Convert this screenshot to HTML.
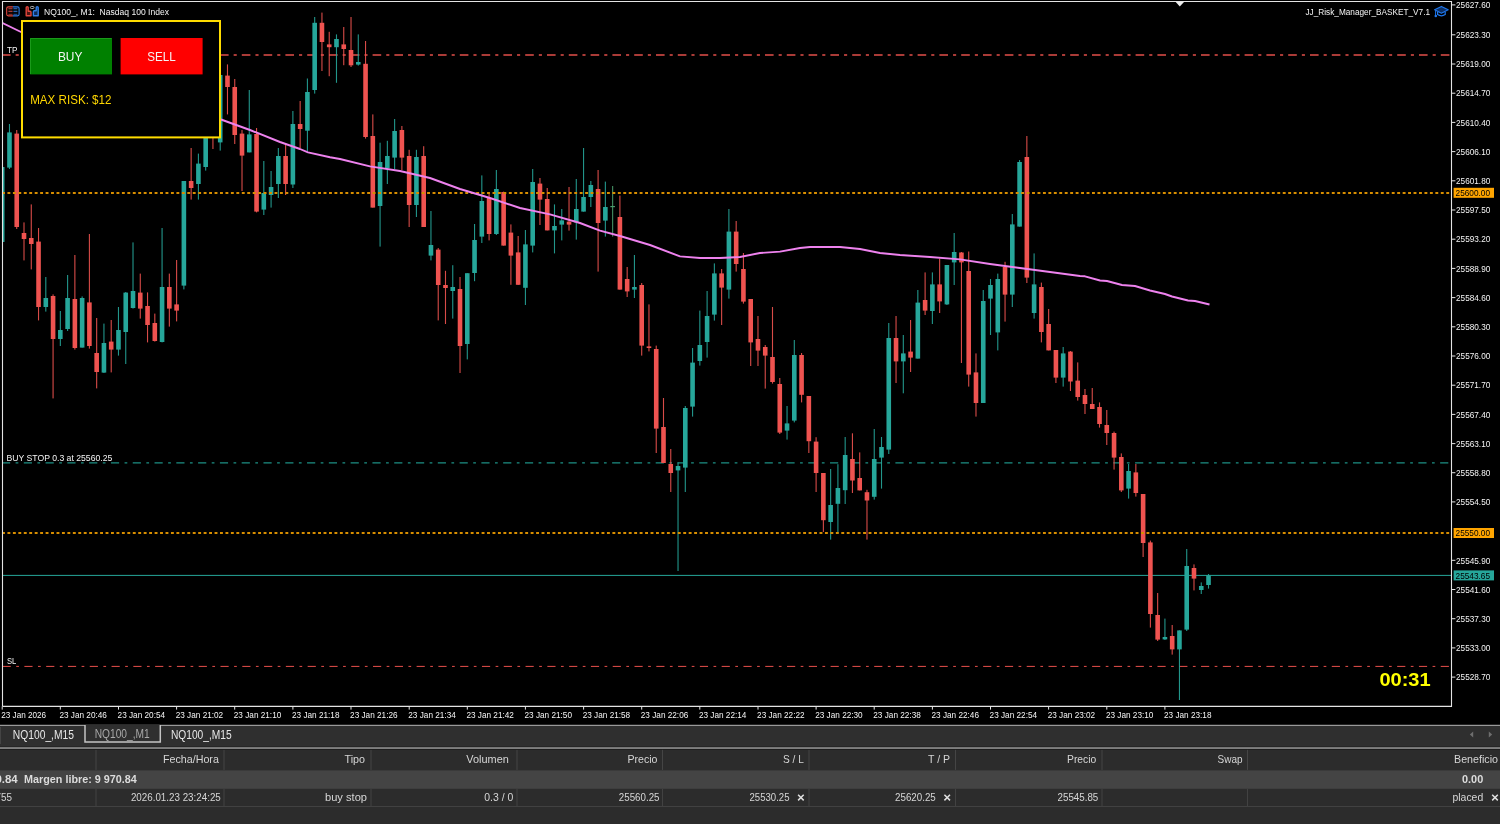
<!DOCTYPE html>
<html lang="es"><head><meta charset="utf-8"><title>NQ100_, M1: Nasdaq 100 Index</title>
<style>
html,body{margin:0;padding:0;background:#2c2c2c;width:1500px;height:824px;overflow:hidden}
svg{display:block;position:absolute;left:0;top:0}
text{font-family:"Liberation Sans",sans-serif;white-space:pre}
.ax{font-size:9.7px;fill:#f4f4f4}
.ui{font-size:11.2px;fill:#d6d6d6}
.tab{font-size:12px}
</style></head><body>
<svg width="1500" height="824" viewBox="0 0 1500 824">
<rect x="0" y="0" width="1500" height="725" fill="#000"/>
<clipPath id="cc"><rect x="3" y="2" width="1448" height="704"/></clipPath>
<g clip-path="url(#cc)">
<line x1="2" y1="54.9" x2="1451" y2="54.9" stroke="#aa3b37" stroke-width="2" stroke-dasharray="8.6 5.05 3.1 5.05"/>
<line x1="2" y1="462.9" x2="1451" y2="462.9" stroke="#1d8f84" stroke-width="1.4" stroke-dasharray="8.17 5.45 2.72 5.45"/>
<line x1="2" y1="575.4" x2="1451" y2="575.4" stroke="#26a69a" stroke-width="1"/>
<line x1="2.6" y1="666.4" x2="1451" y2="666.4" stroke="#e8504b" stroke-width="1" stroke-dasharray="8.17 5.45 2.72 5.45"/>
<g id="candles">
<rect x="1.65" y="165.0" width="1.1" height="79.0" fill="#26a69a" opacity="0.9"/>
<rect x="-0.10" y="167.0" width="4.6" height="75.0" fill="#26a69a"/>
<rect x="8.92" y="124.0" width="1.1" height="45.0" fill="#26a69a" opacity="0.9"/>
<rect x="7.17" y="132.4" width="4.6" height="35.2" fill="#26a69a"/>
<rect x="16.18" y="130.0" width="1.1" height="99.0" fill="#ef5350" opacity="0.9"/>
<rect x="14.43" y="133.6" width="4.6" height="93.4" fill="#ef5350"/>
<rect x="23.45" y="222.4" width="1.1" height="38.0" fill="#ef5350" opacity="0.9"/>
<rect x="21.70" y="233.0" width="4.6" height="6.0" fill="#ef5350"/>
<rect x="30.72" y="204.4" width="1.1" height="65.0" fill="#ef5350" opacity="0.9"/>
<rect x="28.97" y="238.0" width="4.6" height="6.0" fill="#ef5350"/>
<rect x="37.99" y="228.0" width="1.1" height="92.4" fill="#ef5350" opacity="0.9"/>
<rect x="36.24" y="241.6" width="4.6" height="65.4" fill="#ef5350"/>
<rect x="45.25" y="277.0" width="1.1" height="34.6" fill="#26a69a" opacity="0.9"/>
<rect x="43.50" y="298.0" width="4.6" height="9.0" fill="#26a69a"/>
<rect x="52.52" y="294.4" width="1.1" height="104.0" fill="#ef5350" opacity="0.9"/>
<rect x="50.77" y="296.0" width="4.6" height="43.0" fill="#ef5350"/>
<rect x="59.79" y="311.0" width="1.1" height="35.0" fill="#26a69a" opacity="0.9"/>
<rect x="58.04" y="330.0" width="4.6" height="9.0" fill="#26a69a"/>
<rect x="67.05" y="275.0" width="1.1" height="56.0" fill="#26a69a" opacity="0.9"/>
<rect x="65.30" y="298.0" width="4.6" height="31.0" fill="#26a69a"/>
<rect x="74.32" y="255.0" width="1.1" height="94.6" fill="#ef5350" opacity="0.9"/>
<rect x="72.57" y="299.0" width="4.6" height="49.0" fill="#ef5350"/>
<rect x="81.59" y="296.4" width="1.1" height="51.2" fill="#26a69a" opacity="0.9"/>
<rect x="79.84" y="298.0" width="4.6" height="49.6" fill="#26a69a"/>
<rect x="88.85" y="234.0" width="1.1" height="114.6" fill="#ef5350" opacity="0.9"/>
<rect x="87.10" y="302.4" width="4.6" height="43.6" fill="#ef5350"/>
<rect x="96.12" y="318.0" width="1.1" height="70.4" fill="#ef5350" opacity="0.9"/>
<rect x="94.37" y="353.0" width="4.6" height="19.0" fill="#ef5350"/>
<rect x="103.39" y="323.6" width="1.1" height="49.4" fill="#26a69a" opacity="0.9"/>
<rect x="101.64" y="343.0" width="4.6" height="29.6" fill="#26a69a"/>
<rect x="110.66" y="320.0" width="1.1" height="52.4" fill="#ef5350" opacity="0.9"/>
<rect x="108.91" y="341.6" width="4.6" height="8.0" fill="#ef5350"/>
<rect x="117.92" y="307.0" width="1.1" height="48.6" fill="#26a69a" opacity="0.9"/>
<rect x="116.17" y="330.0" width="4.6" height="19.6" fill="#26a69a"/>
<rect x="125.19" y="292.0" width="1.1" height="72.0" fill="#26a69a" opacity="0.9"/>
<rect x="123.44" y="292.6" width="4.6" height="39.4" fill="#26a69a"/>
<rect x="132.46" y="242.4" width="1.1" height="66.2" fill="#26a69a" opacity="0.9"/>
<rect x="130.71" y="291.0" width="4.6" height="17.0" fill="#26a69a"/>
<rect x="139.72" y="273.6" width="1.1" height="45.0" fill="#ef5350" opacity="0.9"/>
<rect x="137.97" y="292.6" width="4.6" height="16.0" fill="#ef5350"/>
<rect x="146.99" y="292.4" width="1.1" height="50.0" fill="#ef5350" opacity="0.9"/>
<rect x="145.24" y="306.0" width="4.6" height="19.0" fill="#ef5350"/>
<rect x="154.26" y="313.6" width="1.1" height="28.0" fill="#ef5350" opacity="0.9"/>
<rect x="152.51" y="323.0" width="4.6" height="18.0" fill="#ef5350"/>
<rect x="161.52" y="228.0" width="1.1" height="114.4" fill="#26a69a" opacity="0.9"/>
<rect x="159.77" y="287.0" width="4.6" height="55.0" fill="#26a69a"/>
<rect x="168.79" y="273.6" width="1.1" height="53.0" fill="#ef5350" opacity="0.9"/>
<rect x="167.04" y="287.0" width="4.6" height="21.6" fill="#ef5350"/>
<rect x="176.06" y="260.0" width="1.1" height="61.4" fill="#ef5350" opacity="0.9"/>
<rect x="174.31" y="304.4" width="4.6" height="6.2" fill="#ef5350"/>
<rect x="183.32" y="181.0" width="1.1" height="108.4" fill="#26a69a" opacity="0.9"/>
<rect x="181.57" y="181.0" width="4.6" height="104.6" fill="#26a69a"/>
<rect x="190.59" y="148.0" width="1.1" height="51.6" fill="#ef5350" opacity="0.9"/>
<rect x="188.84" y="181.0" width="4.6" height="7.0" fill="#ef5350"/>
<rect x="197.86" y="153.6" width="1.1" height="46.0" fill="#26a69a" opacity="0.9"/>
<rect x="196.11" y="163.6" width="4.6" height="20.4" fill="#26a69a"/>
<rect x="205.13" y="120.0" width="1.1" height="50.6" fill="#26a69a" opacity="0.9"/>
<rect x="203.38" y="128.0" width="4.6" height="39.0" fill="#26a69a"/>
<rect x="212.39" y="120.0" width="1.1" height="29.0" fill="#ef5350" opacity="0.9"/>
<rect x="210.64" y="128.0" width="4.6" height="10.0" fill="#ef5350"/>
<rect x="219.66" y="70.0" width="1.1" height="80.6" fill="#26a69a" opacity="0.9"/>
<rect x="217.91" y="75.0" width="4.6" height="67.4" fill="#26a69a"/>
<rect x="226.93" y="64.4" width="1.1" height="50.0" fill="#ef5350" opacity="0.9"/>
<rect x="225.18" y="75.6" width="4.6" height="11.4" fill="#ef5350"/>
<rect x="234.19" y="79.0" width="1.1" height="65.0" fill="#ef5350" opacity="0.9"/>
<rect x="232.44" y="87.0" width="4.6" height="48.0" fill="#ef5350"/>
<rect x="241.46" y="130.0" width="1.1" height="61.0" fill="#ef5350" opacity="0.9"/>
<rect x="239.71" y="133.6" width="4.6" height="22.0" fill="#ef5350"/>
<rect x="248.73" y="90.0" width="1.1" height="62.4" fill="#26a69a" opacity="0.9"/>
<rect x="246.98" y="134.4" width="4.6" height="18.0" fill="#26a69a"/>
<rect x="256.00" y="128.0" width="1.1" height="84.4" fill="#ef5350" opacity="0.9"/>
<rect x="254.25" y="134.0" width="4.6" height="77.6" fill="#ef5350"/>
<rect x="263.26" y="161.0" width="1.1" height="54.0" fill="#26a69a" opacity="0.9"/>
<rect x="261.51" y="193.0" width="4.6" height="16.6" fill="#26a69a"/>
<rect x="270.53" y="171.0" width="1.1" height="36.6" fill="#26a69a" opacity="0.9"/>
<rect x="268.78" y="187.0" width="4.6" height="8.0" fill="#26a69a"/>
<rect x="277.80" y="148.0" width="1.1" height="50.0" fill="#26a69a" opacity="0.9"/>
<rect x="276.05" y="156.0" width="4.6" height="28.0" fill="#26a69a"/>
<rect x="285.06" y="143.0" width="1.1" height="52.0" fill="#ef5350" opacity="0.9"/>
<rect x="283.31" y="156.0" width="4.6" height="28.0" fill="#ef5350"/>
<rect x="292.33" y="111.0" width="1.1" height="77.0" fill="#26a69a" opacity="0.9"/>
<rect x="290.58" y="124.0" width="4.6" height="60.5" fill="#26a69a"/>
<rect x="299.60" y="101.0" width="1.1" height="47.0" fill="#ef5350" opacity="0.9"/>
<rect x="297.85" y="124.0" width="4.6" height="5.0" fill="#ef5350"/>
<rect x="306.86" y="78.5" width="1.1" height="72.5" fill="#26a69a" opacity="0.9"/>
<rect x="305.11" y="92.0" width="4.6" height="38.7" fill="#26a69a"/>
<rect x="314.13" y="17.0" width="1.1" height="76.6" fill="#26a69a" opacity="0.9"/>
<rect x="312.38" y="22.8" width="4.6" height="67.2" fill="#26a69a"/>
<rect x="321.40" y="12.6" width="1.1" height="58.4" fill="#ef5350" opacity="0.9"/>
<rect x="319.65" y="22.8" width="4.6" height="19.2" fill="#ef5350"/>
<rect x="328.67" y="31.8" width="1.1" height="44.4" fill="#ef5350" opacity="0.9"/>
<rect x="326.92" y="44.4" width="4.6" height="2.8" fill="#ef5350"/>
<rect x="335.93" y="34.4" width="1.1" height="48.4" fill="#26a69a" opacity="0.9"/>
<rect x="334.18" y="39.0" width="4.6" height="8.2" fill="#26a69a"/>
<rect x="343.20" y="27.0" width="1.1" height="38.2" fill="#ef5350" opacity="0.9"/>
<rect x="341.45" y="44.4" width="4.6" height="4.6" fill="#ef5350"/>
<rect x="350.47" y="17.0" width="1.1" height="50.0" fill="#ef5350" opacity="0.9"/>
<rect x="348.72" y="50.0" width="4.6" height="15.3" fill="#ef5350"/>
<rect x="357.73" y="34.4" width="1.1" height="31.2" fill="#26a69a" opacity="0.9"/>
<rect x="355.98" y="62.0" width="4.6" height="2.6" fill="#26a69a"/>
<rect x="365.00" y="41.0" width="1.1" height="97.6" fill="#ef5350" opacity="0.9"/>
<rect x="363.25" y="63.8" width="4.6" height="73.2" fill="#ef5350"/>
<rect x="372.27" y="114.4" width="1.1" height="93.2" fill="#ef5350" opacity="0.9"/>
<rect x="370.52" y="136.0" width="4.6" height="71.6" fill="#ef5350"/>
<rect x="379.53" y="142.7" width="1.1" height="103.9" fill="#26a69a" opacity="0.9"/>
<rect x="377.78" y="162.0" width="4.6" height="44.0" fill="#26a69a"/>
<rect x="386.80" y="140.8" width="1.1" height="43.2" fill="#26a69a" opacity="0.9"/>
<rect x="385.05" y="156.0" width="4.6" height="12.4" fill="#26a69a"/>
<rect x="394.07" y="119.0" width="1.1" height="50.0" fill="#26a69a" opacity="0.9"/>
<rect x="392.32" y="131.0" width="4.6" height="26.6" fill="#26a69a"/>
<rect x="401.33" y="126.0" width="1.1" height="44.0" fill="#ef5350" opacity="0.9"/>
<rect x="399.58" y="130.0" width="4.6" height="27.6" fill="#ef5350"/>
<rect x="408.60" y="149.8" width="1.1" height="77.2" fill="#ef5350" opacity="0.9"/>
<rect x="406.85" y="156.0" width="4.6" height="49.0" fill="#ef5350"/>
<rect x="415.87" y="149.8" width="1.1" height="67.2" fill="#26a69a" opacity="0.9"/>
<rect x="414.12" y="157.0" width="4.6" height="48.0" fill="#26a69a"/>
<rect x="423.14" y="146.2" width="1.1" height="80.8" fill="#ef5350" opacity="0.9"/>
<rect x="421.39" y="156.0" width="4.6" height="71.0" fill="#ef5350"/>
<rect x="430.40" y="211.0" width="1.1" height="49.4" fill="#26a69a" opacity="0.9"/>
<rect x="428.65" y="245.0" width="4.6" height="10.6" fill="#26a69a"/>
<rect x="437.67" y="248.0" width="1.1" height="72.4" fill="#ef5350" opacity="0.9"/>
<rect x="435.92" y="249.6" width="4.6" height="35.4" fill="#ef5350"/>
<rect x="444.94" y="270.8" width="1.1" height="53.2" fill="#ef5350" opacity="0.9"/>
<rect x="443.19" y="285.0" width="4.6" height="3.0" fill="#ef5350"/>
<rect x="452.20" y="265.2" width="1.1" height="53.4" fill="#26a69a" opacity="0.9"/>
<rect x="450.45" y="287.0" width="4.6" height="4.0" fill="#26a69a"/>
<rect x="459.47" y="277.0" width="1.1" height="96.0" fill="#ef5350" opacity="0.9"/>
<rect x="457.72" y="289.0" width="4.6" height="57.0" fill="#ef5350"/>
<rect x="466.74" y="273.2" width="1.1" height="86.2" fill="#26a69a" opacity="0.9"/>
<rect x="464.99" y="273.2" width="4.6" height="70.8" fill="#26a69a"/>
<rect x="474.00" y="224.0" width="1.1" height="57.2" fill="#26a69a" opacity="0.9"/>
<rect x="472.25" y="240.0" width="4.6" height="33.0" fill="#26a69a"/>
<rect x="481.27" y="175.4" width="1.1" height="67.6" fill="#26a69a" opacity="0.9"/>
<rect x="479.52" y="201.0" width="4.6" height="35.6" fill="#26a69a"/>
<rect x="488.54" y="193.6" width="1.1" height="46.8" fill="#ef5350" opacity="0.9"/>
<rect x="486.79" y="198.0" width="4.6" height="36.0" fill="#ef5350"/>
<rect x="495.81" y="170.0" width="1.1" height="65.0" fill="#26a69a" opacity="0.9"/>
<rect x="494.06" y="189.0" width="4.6" height="45.0" fill="#26a69a"/>
<rect x="503.07" y="191.6" width="1.1" height="54.0" fill="#ef5350" opacity="0.9"/>
<rect x="501.32" y="192.0" width="4.6" height="53.6" fill="#ef5350"/>
<rect x="510.34" y="224.4" width="1.1" height="60.4" fill="#ef5350" opacity="0.9"/>
<rect x="508.59" y="232.6" width="4.6" height="23.0" fill="#ef5350"/>
<rect x="517.61" y="236.0" width="1.1" height="49.0" fill="#ef5350" opacity="0.9"/>
<rect x="515.86" y="252.4" width="4.6" height="32.4" fill="#ef5350"/>
<rect x="524.87" y="230.0" width="1.1" height="75.0" fill="#26a69a" opacity="0.9"/>
<rect x="523.12" y="244.4" width="4.6" height="43.4" fill="#26a69a"/>
<rect x="532.14" y="169.0" width="1.1" height="83.4" fill="#26a69a" opacity="0.9"/>
<rect x="530.39" y="182.0" width="4.6" height="63.6" fill="#26a69a"/>
<rect x="539.41" y="178.0" width="1.1" height="47.0" fill="#ef5350" opacity="0.9"/>
<rect x="537.66" y="183.6" width="4.6" height="16.0" fill="#ef5350"/>
<rect x="546.68" y="188.0" width="1.1" height="42.4" fill="#ef5350" opacity="0.9"/>
<rect x="544.93" y="199.0" width="4.6" height="31.4" fill="#ef5350"/>
<rect x="553.94" y="204.4" width="1.1" height="49.0" fill="#26a69a" opacity="0.9"/>
<rect x="552.19" y="226.0" width="4.6" height="4.4" fill="#26a69a"/>
<rect x="561.21" y="209.0" width="1.1" height="31.4" fill="#26a69a" opacity="0.9"/>
<rect x="559.46" y="220.4" width="4.6" height="4.2" fill="#26a69a"/>
<rect x="568.48" y="187.0" width="1.1" height="43.6" fill="#ef5350" opacity="0.9"/>
<rect x="566.73" y="221.6" width="4.6" height="3.0" fill="#ef5350"/>
<rect x="575.74" y="179.0" width="1.1" height="60.6" fill="#26a69a" opacity="0.9"/>
<rect x="573.99" y="209.0" width="4.6" height="13.4" fill="#26a69a"/>
<rect x="583.01" y="148.0" width="1.1" height="63.6" fill="#26a69a" opacity="0.9"/>
<rect x="581.26" y="197.0" width="4.6" height="14.6" fill="#26a69a"/>
<rect x="590.28" y="181.0" width="1.1" height="26.0" fill="#26a69a" opacity="0.9"/>
<rect x="588.53" y="185.0" width="4.6" height="12.0" fill="#26a69a"/>
<rect x="597.54" y="170.0" width="1.1" height="101.6" fill="#ef5350" opacity="0.9"/>
<rect x="595.79" y="189.0" width="4.6" height="34.0" fill="#ef5350"/>
<rect x="604.81" y="181.6" width="1.1" height="55.0" fill="#26a69a" opacity="0.9"/>
<rect x="603.06" y="207.0" width="4.6" height="13.6" fill="#26a69a"/>
<rect x="612.08" y="186.0" width="1.1" height="50.6" fill="#4a9e6e" opacity="0.9"/>
<rect x="610.33" y="206.0" width="4.6" height="1.2" fill="#4a9e6e"/>
<rect x="619.35" y="195.6" width="1.1" height="94.0" fill="#ef5350" opacity="0.9"/>
<rect x="617.60" y="217.0" width="4.6" height="72.6" fill="#ef5350"/>
<rect x="626.61" y="267.0" width="1.1" height="30.0" fill="#ef5350" opacity="0.9"/>
<rect x="624.86" y="279.0" width="4.6" height="12.4" fill="#ef5350"/>
<rect x="633.88" y="255.0" width="1.1" height="43.0" fill="#26a69a" opacity="0.9"/>
<rect x="632.13" y="287.0" width="4.6" height="2.6" fill="#26a69a"/>
<rect x="641.15" y="283.0" width="1.1" height="72.6" fill="#ef5350" opacity="0.9"/>
<rect x="639.40" y="285.0" width="4.6" height="60.6" fill="#ef5350"/>
<rect x="648.41" y="304.4" width="1.1" height="47.0" fill="#ef5350" opacity="0.9"/>
<rect x="646.66" y="346.4" width="4.6" height="1.6" fill="#ef5350"/>
<rect x="655.68" y="345.6" width="1.1" height="107.4" fill="#ef5350" opacity="0.9"/>
<rect x="653.93" y="349.0" width="4.6" height="79.6" fill="#ef5350"/>
<rect x="662.95" y="398.0" width="1.1" height="65.0" fill="#ef5350" opacity="0.9"/>
<rect x="661.20" y="427.0" width="4.6" height="36.0" fill="#ef5350"/>
<rect x="670.21" y="449.0" width="1.1" height="43.0" fill="#ef5350" opacity="0.9"/>
<rect x="668.46" y="464.0" width="4.6" height="9.0" fill="#ef5350"/>
<rect x="677.48" y="462.4" width="1.1" height="108.6" fill="#26a69a" opacity="0.9"/>
<rect x="675.73" y="466.0" width="4.6" height="4.4" fill="#26a69a"/>
<rect x="684.75" y="406.0" width="1.1" height="86.0" fill="#26a69a" opacity="0.9"/>
<rect x="683.00" y="408.0" width="4.6" height="59.6" fill="#26a69a"/>
<rect x="692.02" y="348.0" width="1.1" height="68.6" fill="#26a69a" opacity="0.9"/>
<rect x="690.27" y="362.6" width="4.6" height="44.0" fill="#26a69a"/>
<rect x="699.28" y="310.6" width="1.1" height="55.0" fill="#26a69a" opacity="0.9"/>
<rect x="697.53" y="345.0" width="4.6" height="16.0" fill="#26a69a"/>
<rect x="706.55" y="291.0" width="1.1" height="66.6" fill="#26a69a" opacity="0.9"/>
<rect x="704.80" y="316.0" width="4.6" height="26.0" fill="#26a69a"/>
<rect x="713.82" y="263.4" width="1.1" height="57.2" fill="#26a69a" opacity="0.9"/>
<rect x="712.07" y="273.4" width="4.6" height="41.2" fill="#26a69a"/>
<rect x="721.08" y="269.0" width="1.1" height="56.0" fill="#ef5350" opacity="0.9"/>
<rect x="719.33" y="273.4" width="4.6" height="14.2" fill="#ef5350"/>
<rect x="728.35" y="209.0" width="1.1" height="89.6" fill="#26a69a" opacity="0.9"/>
<rect x="726.60" y="231.6" width="4.6" height="58.0" fill="#26a69a"/>
<rect x="735.62" y="221.0" width="1.1" height="50.6" fill="#ef5350" opacity="0.9"/>
<rect x="733.87" y="231.6" width="4.6" height="32.4" fill="#ef5350"/>
<rect x="742.88" y="253.0" width="1.1" height="50.6" fill="#ef5350" opacity="0.9"/>
<rect x="741.13" y="269.0" width="4.6" height="32.6" fill="#ef5350"/>
<rect x="750.15" y="299.0" width="1.1" height="67.0" fill="#ef5350" opacity="0.9"/>
<rect x="748.40" y="299.0" width="4.6" height="43.4" fill="#ef5350"/>
<rect x="757.42" y="316.0" width="1.1" height="50.0" fill="#ef5350" opacity="0.9"/>
<rect x="755.67" y="339.0" width="4.6" height="11.6" fill="#ef5350"/>
<rect x="764.69" y="345.0" width="1.1" height="43.6" fill="#ef5350" opacity="0.9"/>
<rect x="762.94" y="347.0" width="4.6" height="8.6" fill="#ef5350"/>
<rect x="771.95" y="307.0" width="1.1" height="76.6" fill="#ef5350" opacity="0.9"/>
<rect x="770.20" y="357.0" width="4.6" height="25.0" fill="#ef5350"/>
<rect x="779.22" y="378.0" width="1.1" height="56.0" fill="#ef5350" opacity="0.9"/>
<rect x="777.47" y="384.0" width="4.6" height="48.6" fill="#ef5350"/>
<rect x="786.49" y="406.0" width="1.1" height="33.6" fill="#26a69a" opacity="0.9"/>
<rect x="784.74" y="423.4" width="4.6" height="7.2" fill="#26a69a"/>
<rect x="793.75" y="340.0" width="1.1" height="82.4" fill="#26a69a" opacity="0.9"/>
<rect x="792.00" y="355.0" width="4.6" height="65.6" fill="#26a69a"/>
<rect x="801.02" y="353.0" width="1.1" height="49.4" fill="#ef5350" opacity="0.9"/>
<rect x="799.27" y="355.0" width="4.6" height="39.8" fill="#ef5350"/>
<rect x="808.29" y="396.0" width="1.1" height="57.0" fill="#ef5350" opacity="0.9"/>
<rect x="806.54" y="396.0" width="4.6" height="45.2" fill="#ef5350"/>
<rect x="815.55" y="437.2" width="1.1" height="54.8" fill="#ef5350" opacity="0.9"/>
<rect x="813.80" y="441.6" width="4.6" height="31.4" fill="#ef5350"/>
<rect x="822.82" y="473.0" width="1.1" height="59.0" fill="#ef5350" opacity="0.9"/>
<rect x="821.07" y="473.0" width="4.6" height="47.2" fill="#ef5350"/>
<rect x="830.09" y="469.0" width="1.1" height="70.6" fill="#26a69a" opacity="0.9"/>
<rect x="828.34" y="505.0" width="4.6" height="17.0" fill="#26a69a"/>
<rect x="837.36" y="464.2" width="1.1" height="69.4" fill="#26a69a" opacity="0.9"/>
<rect x="835.61" y="488.0" width="4.6" height="15.8" fill="#26a69a"/>
<rect x="844.62" y="437.0" width="1.1" height="67.0" fill="#26a69a" opacity="0.9"/>
<rect x="842.87" y="455.0" width="4.6" height="35.2" fill="#26a69a"/>
<rect x="851.89" y="433.3" width="1.1" height="59.7" fill="#ef5350" opacity="0.9"/>
<rect x="850.14" y="459.0" width="4.6" height="21.5" fill="#ef5350"/>
<rect x="859.16" y="452.4" width="1.1" height="38.0" fill="#ef5350" opacity="0.9"/>
<rect x="857.41" y="478.0" width="4.6" height="12.4" fill="#ef5350"/>
<rect x="866.42" y="489.8" width="1.1" height="49.8" fill="#ef5350" opacity="0.9"/>
<rect x="864.67" y="492.2" width="4.6" height="8.3" fill="#ef5350"/>
<rect x="873.69" y="429.0" width="1.1" height="70.6" fill="#26a69a" opacity="0.9"/>
<rect x="871.94" y="459.0" width="4.6" height="37.8" fill="#26a69a"/>
<rect x="880.96" y="437.0" width="1.1" height="51.6" fill="#26a69a" opacity="0.9"/>
<rect x="879.21" y="447.0" width="4.6" height="10.6" fill="#26a69a"/>
<rect x="888.22" y="323.0" width="1.1" height="131.0" fill="#26a69a" opacity="0.9"/>
<rect x="886.47" y="338.0" width="4.6" height="111.6" fill="#26a69a"/>
<rect x="895.49" y="316.0" width="1.1" height="67.0" fill="#ef5350" opacity="0.9"/>
<rect x="893.74" y="338.0" width="4.6" height="23.4" fill="#ef5350"/>
<rect x="902.76" y="335.0" width="1.1" height="58.3" fill="#26a69a" opacity="0.9"/>
<rect x="901.01" y="353.4" width="4.6" height="8.0" fill="#26a69a"/>
<rect x="910.03" y="320.0" width="1.1" height="52.0" fill="#ef5350" opacity="0.9"/>
<rect x="908.28" y="351.6" width="4.6" height="6.0" fill="#ef5350"/>
<rect x="917.29" y="290.0" width="1.1" height="68.6" fill="#26a69a" opacity="0.9"/>
<rect x="915.54" y="302.6" width="4.6" height="56.0" fill="#26a69a"/>
<rect x="924.56" y="272.4" width="1.1" height="42.6" fill="#ef5350" opacity="0.9"/>
<rect x="922.81" y="300.0" width="4.6" height="10.6" fill="#ef5350"/>
<rect x="931.83" y="272.4" width="1.1" height="51.6" fill="#26a69a" opacity="0.9"/>
<rect x="930.08" y="284.4" width="4.6" height="26.6" fill="#26a69a"/>
<rect x="939.09" y="258.5" width="1.1" height="54.5" fill="#ef5350" opacity="0.9"/>
<rect x="937.34" y="284.4" width="4.6" height="17.0" fill="#ef5350"/>
<rect x="946.36" y="265.0" width="1.1" height="40.0" fill="#26a69a" opacity="0.9"/>
<rect x="944.61" y="265.0" width="4.6" height="39.4" fill="#26a69a"/>
<rect x="953.63" y="233.0" width="1.1" height="52.0" fill="#26a69a" opacity="0.9"/>
<rect x="951.88" y="252.0" width="4.6" height="10.4" fill="#26a69a"/>
<rect x="960.89" y="252.0" width="1.1" height="111.0" fill="#ef5350" opacity="0.9"/>
<rect x="959.14" y="252.5" width="4.6" height="9.9" fill="#ef5350"/>
<rect x="968.16" y="251.5" width="1.1" height="135.1" fill="#ef5350" opacity="0.9"/>
<rect x="966.41" y="271.0" width="4.6" height="103.6" fill="#ef5350"/>
<rect x="975.43" y="353.4" width="1.1" height="63.2" fill="#ef5350" opacity="0.9"/>
<rect x="973.68" y="372.4" width="4.6" height="30.6" fill="#ef5350"/>
<rect x="982.70" y="290.0" width="1.1" height="113.0" fill="#26a69a" opacity="0.9"/>
<rect x="980.95" y="301.0" width="4.6" height="102.0" fill="#26a69a"/>
<rect x="989.96" y="279.0" width="1.1" height="56.0" fill="#26a69a" opacity="0.9"/>
<rect x="988.21" y="285.0" width="4.6" height="13.6" fill="#26a69a"/>
<rect x="997.23" y="273.6" width="1.1" height="76.8" fill="#26a69a" opacity="0.9"/>
<rect x="995.48" y="279.0" width="4.6" height="53.4" fill="#26a69a"/>
<rect x="1004.50" y="261.8" width="1.1" height="59.8" fill="#ef5350" opacity="0.9"/>
<rect x="1002.75" y="267.0" width="4.6" height="27.6" fill="#ef5350"/>
<rect x="1011.76" y="214.0" width="1.1" height="93.0" fill="#26a69a" opacity="0.9"/>
<rect x="1010.01" y="224.4" width="4.6" height="70.2" fill="#26a69a"/>
<rect x="1019.03" y="160.0" width="1.1" height="66.6" fill="#26a69a" opacity="0.9"/>
<rect x="1017.28" y="162.0" width="4.6" height="64.6" fill="#26a69a"/>
<rect x="1026.30" y="136.0" width="1.1" height="147.0" fill="#ef5350" opacity="0.9"/>
<rect x="1024.55" y="157.0" width="4.6" height="120.6" fill="#ef5350"/>
<rect x="1033.56" y="253.4" width="1.1" height="65.2" fill="#26a69a" opacity="0.9"/>
<rect x="1031.81" y="284.4" width="4.6" height="28.6" fill="#26a69a"/>
<rect x="1040.83" y="282.6" width="1.1" height="59.8" fill="#ef5350" opacity="0.9"/>
<rect x="1039.08" y="287.0" width="4.6" height="45.0" fill="#ef5350"/>
<rect x="1048.10" y="309.0" width="1.1" height="41.4" fill="#ef5350" opacity="0.9"/>
<rect x="1046.35" y="324.0" width="4.6" height="26.4" fill="#ef5350"/>
<rect x="1055.37" y="350.0" width="1.1" height="33.0" fill="#ef5350" opacity="0.9"/>
<rect x="1053.62" y="350.0" width="4.6" height="27.6" fill="#ef5350"/>
<rect x="1062.63" y="347.0" width="1.1" height="39.6" fill="#26a69a" opacity="0.9"/>
<rect x="1060.88" y="353.4" width="4.6" height="24.2" fill="#26a69a"/>
<rect x="1069.90" y="351.0" width="1.1" height="40.0" fill="#ef5350" opacity="0.9"/>
<rect x="1068.15" y="351.6" width="4.6" height="29.9" fill="#ef5350"/>
<rect x="1077.17" y="362.4" width="1.1" height="38.2" fill="#ef5350" opacity="0.9"/>
<rect x="1075.42" y="380.6" width="4.6" height="16.4" fill="#ef5350"/>
<rect x="1084.43" y="389.0" width="1.1" height="25.0" fill="#ef5350" opacity="0.9"/>
<rect x="1082.68" y="395.0" width="4.6" height="9.0" fill="#ef5350"/>
<rect x="1091.70" y="388.0" width="1.1" height="21.0" fill="#ef5350" opacity="0.9"/>
<rect x="1089.95" y="404.0" width="4.6" height="5.0" fill="#ef5350"/>
<rect x="1098.97" y="402.4" width="1.1" height="25.2" fill="#ef5350" opacity="0.9"/>
<rect x="1097.22" y="407.0" width="4.6" height="17.0" fill="#ef5350"/>
<rect x="1106.23" y="410.0" width="1.1" height="35.0" fill="#ef5350" opacity="0.9"/>
<rect x="1104.48" y="425.0" width="4.6" height="8.0" fill="#ef5350"/>
<rect x="1113.50" y="431.6" width="1.1" height="38.0" fill="#ef5350" opacity="0.9"/>
<rect x="1111.75" y="433.0" width="4.6" height="24.6" fill="#ef5350"/>
<rect x="1120.77" y="453.4" width="1.1" height="38.6" fill="#ef5350" opacity="0.9"/>
<rect x="1119.02" y="457.0" width="4.6" height="33.4" fill="#ef5350"/>
<rect x="1128.04" y="464.0" width="1.1" height="34.6" fill="#26a69a" opacity="0.9"/>
<rect x="1126.29" y="471.0" width="4.6" height="17.6" fill="#26a69a"/>
<rect x="1135.30" y="464.0" width="1.1" height="32.6" fill="#ef5350" opacity="0.9"/>
<rect x="1133.55" y="472.4" width="4.6" height="20.6" fill="#ef5350"/>
<rect x="1142.57" y="494.0" width="1.1" height="63.0" fill="#ef5350" opacity="0.9"/>
<rect x="1140.82" y="494.0" width="4.6" height="49.0" fill="#ef5350"/>
<rect x="1149.84" y="540.6" width="1.1" height="87.0" fill="#ef5350" opacity="0.9"/>
<rect x="1148.09" y="542.4" width="4.6" height="71.6" fill="#ef5350"/>
<rect x="1157.10" y="593.0" width="1.1" height="48.0" fill="#ef5350" opacity="0.9"/>
<rect x="1155.35" y="615.0" width="4.6" height="24.6" fill="#ef5350"/>
<rect x="1164.37" y="618.6" width="1.1" height="21.4" fill="#26a69a" opacity="0.9"/>
<rect x="1162.62" y="637.0" width="4.6" height="2.4" fill="#26a69a"/>
<rect x="1171.64" y="625.0" width="1.1" height="29.6" fill="#ef5350" opacity="0.9"/>
<rect x="1169.89" y="636.0" width="4.6" height="13.4" fill="#ef5350"/>
<rect x="1178.90" y="630.4" width="1.1" height="69.6" fill="#26a69a" opacity="0.9"/>
<rect x="1177.15" y="630.4" width="4.6" height="19.0" fill="#26a69a"/>
<rect x="1186.17" y="549.0" width="1.1" height="82.0" fill="#26a69a" opacity="0.9"/>
<rect x="1184.42" y="566.0" width="4.6" height="63.6" fill="#26a69a"/>
<rect x="1193.44" y="564.4" width="1.1" height="26.0" fill="#ef5350" opacity="0.9"/>
<rect x="1191.69" y="568.0" width="4.6" height="10.6" fill="#ef5350"/>
<rect x="1200.71" y="582.4" width="1.1" height="11.6" fill="#26a69a" opacity="0.9"/>
<rect x="1198.96" y="586.0" width="4.6" height="4.0" fill="#26a69a"/>
<rect x="1207.97" y="574.0" width="1.1" height="14.6" fill="#26a69a" opacity="0.9"/>
<rect x="1206.22" y="575.4" width="4.6" height="9.6" fill="#26a69a"/>
</g>
<line x1="2" y1="193" x2="1451" y2="193" stroke="#d88e00" stroke-width="1.9" stroke-dasharray="2.9 2.55"/>
<line x1="2" y1="533" x2="1451" y2="533" stroke="#d88e00" stroke-width="1.9" stroke-dasharray="2.9 2.55"/>
<polyline points="2.5,23.0 21.0,32.0 60.0,50.0 100.0,68.0 140.0,85.0 180.0,102.0 221.0,119.5 250.0,130.0 280.0,142.0 300.0,149.0 308.0,152.4 330.0,157.3 340.0,159.0 370.0,166.4 400.0,171.0 430.0,178.0 460.0,189.0 490.0,198.0 520.0,208.0 550.0,214.4 580.0,223.0 600.0,230.6 620.0,236.0 650.0,245.0 680.0,256.4 700.0,258.0 720.0,258.0 740.0,257.0 760.0,253.0 780.0,251.6 800.0,248.0 810.0,247.0 840.0,247.0 860.0,249.0 880.0,253.0 900.0,255.0 930.0,257.0 960.0,259.4 990.0,264.0 1020.0,268.0 1050.0,272.0 1080.0,276.0 1085.0,276.3 1100.0,280.5 1107.0,281.0 1122.0,285.0 1135.0,286.0 1150.0,290.5 1165.0,294.0 1172.0,296.5 1188.0,300.5 1195.0,301.0 1209.5,304.5" fill="none" stroke="#ee82ee" stroke-width="1.9" stroke-linejoin="round"/>
</g>
<g stroke="#e4e4e4" stroke-width="1.1" fill="none">
<path d="M2.5 706.4 V1.5 H1451.5 V706.4 H2.5"/>
</g>
<path d="M1175.3 1.6 L1184.5 1.6 L1179.8 6.6 Z" fill="#ededed"/>
<g class="ax">
<rect x="1451.8" y="4.4" width="3.6" height="1" fill="#e4e4e4"/>
<text class="ax" x="1456" y="8.1" textLength="34.3" lengthAdjust="spacingAndGlyphs">25627.60</text>
<rect x="1451.8" y="34.3" width="3.6" height="1" fill="#e4e4e4"/>
<text class="ax" x="1456" y="38.0" textLength="34.3" lengthAdjust="spacingAndGlyphs">25623.30</text>
<rect x="1451.8" y="63.5" width="3.6" height="1" fill="#e4e4e4"/>
<text class="ax" x="1456" y="67.2" textLength="34.3" lengthAdjust="spacingAndGlyphs">25619.00</text>
<rect x="1451.8" y="92.7" width="3.6" height="1" fill="#e4e4e4"/>
<text class="ax" x="1456" y="96.4" textLength="34.3" lengthAdjust="spacingAndGlyphs">25614.70</text>
<rect x="1451.8" y="121.9" width="3.6" height="1" fill="#e4e4e4"/>
<text class="ax" x="1456" y="125.6" textLength="34.3" lengthAdjust="spacingAndGlyphs">25610.40</text>
<rect x="1451.8" y="151.1" width="3.6" height="1" fill="#e4e4e4"/>
<text class="ax" x="1456" y="154.8" textLength="34.3" lengthAdjust="spacingAndGlyphs">25606.10</text>
<rect x="1451.8" y="180.3" width="3.6" height="1" fill="#e4e4e4"/>
<text class="ax" x="1456" y="184.0" textLength="34.3" lengthAdjust="spacingAndGlyphs">25601.80</text>
<rect x="1451.8" y="209.5" width="3.6" height="1" fill="#e4e4e4"/>
<text class="ax" x="1456" y="213.2" textLength="34.3" lengthAdjust="spacingAndGlyphs">25597.50</text>
<rect x="1451.8" y="238.7" width="3.6" height="1" fill="#e4e4e4"/>
<text class="ax" x="1456" y="242.4" textLength="34.3" lengthAdjust="spacingAndGlyphs">25593.20</text>
<rect x="1451.8" y="267.9" width="3.6" height="1" fill="#e4e4e4"/>
<text class="ax" x="1456" y="271.6" textLength="34.3" lengthAdjust="spacingAndGlyphs">25588.90</text>
<rect x="1451.8" y="297.1" width="3.6" height="1" fill="#e4e4e4"/>
<text class="ax" x="1456" y="300.8" textLength="34.3" lengthAdjust="spacingAndGlyphs">25584.60</text>
<rect x="1451.8" y="326.3" width="3.6" height="1" fill="#e4e4e4"/>
<text class="ax" x="1456" y="330.0" textLength="34.3" lengthAdjust="spacingAndGlyphs">25580.30</text>
<rect x="1451.8" y="355.5" width="3.6" height="1" fill="#e4e4e4"/>
<text class="ax" x="1456" y="359.2" textLength="34.3" lengthAdjust="spacingAndGlyphs">25576.00</text>
<rect x="1451.8" y="384.7" width="3.6" height="1" fill="#e4e4e4"/>
<text class="ax" x="1456" y="388.4" textLength="34.3" lengthAdjust="spacingAndGlyphs">25571.70</text>
<rect x="1451.8" y="413.9" width="3.6" height="1" fill="#e4e4e4"/>
<text class="ax" x="1456" y="417.6" textLength="34.3" lengthAdjust="spacingAndGlyphs">25567.40</text>
<rect x="1451.8" y="443.1" width="3.6" height="1" fill="#e4e4e4"/>
<text class="ax" x="1456" y="446.8" textLength="34.3" lengthAdjust="spacingAndGlyphs">25563.10</text>
<rect x="1451.8" y="472.2" width="3.6" height="1" fill="#e4e4e4"/>
<text class="ax" x="1456" y="475.9" textLength="34.3" lengthAdjust="spacingAndGlyphs">25558.80</text>
<rect x="1451.8" y="501.4" width="3.6" height="1" fill="#e4e4e4"/>
<text class="ax" x="1456" y="505.1" textLength="34.3" lengthAdjust="spacingAndGlyphs">25554.50</text>
<rect x="1451.8" y="559.8" width="3.6" height="1" fill="#e4e4e4"/>
<text class="ax" x="1456" y="563.5" textLength="34.3" lengthAdjust="spacingAndGlyphs">25545.90</text>
<rect x="1451.8" y="589.0" width="3.6" height="1" fill="#e4e4e4"/>
<text class="ax" x="1456" y="592.7" textLength="34.3" lengthAdjust="spacingAndGlyphs">25541.60</text>
<rect x="1451.8" y="618.2" width="3.6" height="1" fill="#e4e4e4"/>
<text class="ax" x="1456" y="621.9" textLength="34.3" lengthAdjust="spacingAndGlyphs">25537.30</text>
<rect x="1451.8" y="647.4" width="3.6" height="1" fill="#e4e4e4"/>
<text class="ax" x="1456" y="651.1" textLength="34.3" lengthAdjust="spacingAndGlyphs">25533.00</text>
<rect x="1451.8" y="676.6" width="3.6" height="1" fill="#e4e4e4"/>
<text class="ax" x="1456" y="680.3" textLength="34.3" lengthAdjust="spacingAndGlyphs">25528.70</text>
</g>
<rect x="1453.6" y="187.8" width="40.4" height="10" fill="#ffa500"/>
<text class="ax" x="1455.6" y="196.1" textLength="34.4" lengthAdjust="spacingAndGlyphs" style="fill:#000">25600.00</text>
<rect x="1453.6" y="528.0" width="40.4" height="10" fill="#ffa500"/>
<text class="ax" x="1455.6" y="536.3" textLength="34.4" lengthAdjust="spacingAndGlyphs" style="fill:#000">25550.00</text>
<rect x="1453.6" y="570.4" width="40.4" height="10" fill="#26a69a"/>
<text class="ax" x="1455.6" y="578.7" textLength="34.4" lengthAdjust="spacingAndGlyphs" style="fill:#000">25543.65</text>
<rect x="1.7" y="706.4" width="1" height="3.2" fill="#e4e4e4"/>
<text class="ax" x="1.3" y="718" textLength="44.8" lengthAdjust="spacingAndGlyphs">23 Jan 2026</text>
<rect x="59.8" y="706.4" width="1" height="3.2" fill="#e4e4e4"/>
<text class="ax" x="59.4" y="718" textLength="47.5" lengthAdjust="spacingAndGlyphs">23 Jan 20:46</text>
<rect x="118.0" y="706.4" width="1" height="3.2" fill="#e4e4e4"/>
<text class="ax" x="117.6" y="718" textLength="47.5" lengthAdjust="spacingAndGlyphs">23 Jan 20:54</text>
<rect x="176.1" y="706.4" width="1" height="3.2" fill="#e4e4e4"/>
<text class="ax" x="175.7" y="718" textLength="47.5" lengthAdjust="spacingAndGlyphs">23 Jan 21:02</text>
<rect x="234.2" y="706.4" width="1" height="3.2" fill="#e4e4e4"/>
<text class="ax" x="233.8" y="718" textLength="47.5" lengthAdjust="spacingAndGlyphs">23 Jan 21:10</text>
<rect x="292.4" y="706.4" width="1" height="3.2" fill="#e4e4e4"/>
<text class="ax" x="292.0" y="718" textLength="47.5" lengthAdjust="spacingAndGlyphs">23 Jan 21:18</text>
<rect x="350.5" y="706.4" width="1" height="3.2" fill="#e4e4e4"/>
<text class="ax" x="350.1" y="718" textLength="47.5" lengthAdjust="spacingAndGlyphs">23 Jan 21:26</text>
<rect x="408.7" y="706.4" width="1" height="3.2" fill="#e4e4e4"/>
<text class="ax" x="408.3" y="718" textLength="47.5" lengthAdjust="spacingAndGlyphs">23 Jan 21:34</text>
<rect x="466.8" y="706.4" width="1" height="3.2" fill="#e4e4e4"/>
<text class="ax" x="466.4" y="718" textLength="47.5" lengthAdjust="spacingAndGlyphs">23 Jan 21:42</text>
<rect x="524.9" y="706.4" width="1" height="3.2" fill="#e4e4e4"/>
<text class="ax" x="524.5" y="718" textLength="47.5" lengthAdjust="spacingAndGlyphs">23 Jan 21:50</text>
<rect x="583.1" y="706.4" width="1" height="3.2" fill="#e4e4e4"/>
<text class="ax" x="582.7" y="718" textLength="47.5" lengthAdjust="spacingAndGlyphs">23 Jan 21:58</text>
<rect x="641.2" y="706.4" width="1" height="3.2" fill="#e4e4e4"/>
<text class="ax" x="640.8" y="718" textLength="47.5" lengthAdjust="spacingAndGlyphs">23 Jan 22:06</text>
<rect x="699.3" y="706.4" width="1" height="3.2" fill="#e4e4e4"/>
<text class="ax" x="698.9" y="718" textLength="47.5" lengthAdjust="spacingAndGlyphs">23 Jan 22:14</text>
<rect x="757.5" y="706.4" width="1" height="3.2" fill="#e4e4e4"/>
<text class="ax" x="757.1" y="718" textLength="47.5" lengthAdjust="spacingAndGlyphs">23 Jan 22:22</text>
<rect x="815.6" y="706.4" width="1" height="3.2" fill="#e4e4e4"/>
<text class="ax" x="815.2" y="718" textLength="47.5" lengthAdjust="spacingAndGlyphs">23 Jan 22:30</text>
<rect x="873.7" y="706.4" width="1" height="3.2" fill="#e4e4e4"/>
<text class="ax" x="873.3" y="718" textLength="47.5" lengthAdjust="spacingAndGlyphs">23 Jan 22:38</text>
<rect x="931.9" y="706.4" width="1" height="3.2" fill="#e4e4e4"/>
<text class="ax" x="931.5" y="718" textLength="47.5" lengthAdjust="spacingAndGlyphs">23 Jan 22:46</text>
<rect x="990.0" y="706.4" width="1" height="3.2" fill="#e4e4e4"/>
<text class="ax" x="989.6" y="718" textLength="47.5" lengthAdjust="spacingAndGlyphs">23 Jan 22:54</text>
<rect x="1048.1" y="706.4" width="1" height="3.2" fill="#e4e4e4"/>
<text class="ax" x="1047.7" y="718" textLength="47.5" lengthAdjust="spacingAndGlyphs">23 Jan 23:02</text>
<rect x="1106.3" y="706.4" width="1" height="3.2" fill="#e4e4e4"/>
<text class="ax" x="1105.9" y="718" textLength="47.5" lengthAdjust="spacingAndGlyphs">23 Jan 23:10</text>
<rect x="1164.4" y="706.4" width="1" height="3.2" fill="#e4e4e4"/>
<text class="ax" x="1164.0" y="718" textLength="47.5" lengthAdjust="spacingAndGlyphs">23 Jan 23:18</text>
<text class="ax" x="44" y="14.8" textLength="125" lengthAdjust="spacingAndGlyphs">NQ100_, M1:  Nasdaq 100 Index</text>
<text class="ax" x="1305.5" y="14.8" textLength="124.5" lengthAdjust="spacingAndGlyphs">JJ_Risk_Manager_BASKET_V7.1</text>
<text class="ax" x="7" y="52.8" textLength="10.4" lengthAdjust="spacingAndGlyphs" style="font-size:9.7px">TP</text>
<text class="ax" x="7" y="664.2" textLength="9.3" lengthAdjust="spacingAndGlyphs" style="font-size:9.7px">SL</text>
<text class="ax" x="6.5" y="461" textLength="105.8" lengthAdjust="spacingAndGlyphs" style="font-size:9.9px">BUY STOP 0.3 at 25560.25</text>
<g id="ico1" fill="none" stroke-width="1.3" stroke-linecap="butt">
<path d="M12.9 6.9 H8.3 Q6.7 6.9 6.7 8.5 V14.3 Q6.7 15.9 8.3 15.9 H12.9" stroke="#e2463c" stroke-width="1.1"/>
<path d="M12.9 6.9 H17.5 Q19.1 6.9 19.1 8.5 V14.3 Q19.1 15.9 17.5 15.9 H12.9" stroke="#2f7de6" stroke-width="1.1"/>
<path d="M8.4 8.7H12.6M8.4 11.6H12.6" stroke="#e8504a" stroke-width="0.8"/>
<path d="M8.4 10.2H12.6" stroke="#5a1c18" stroke-width="0.9"/>
<path d="M8.4 14.3H12.6" stroke="#9a3630" stroke-width="1"/>
<path d="M13.4 8.7H17.4M13.4 11.6H17.4" stroke="#3a8cf5" stroke-width="0.8"/>
<path d="M13.4 10.2H17.4" stroke="#14315c" stroke-width="0.9"/>
<path d="M13.4 14.3H17.4" stroke="#2358a6" stroke-width="1"/>
</g>
<g id="ico2" fill="none" stroke-width="1.4" stroke-linejoin="round">
<path d="M26.2 15.7 V7.6 Q26.2 6.8 27.2 6.8 Q28.2 6.8 28.2 7.6 V11.2 H30 Q31 11.2 31 12.2 V15.7 Z" stroke="#e2463c" fill="#4a1512"/>
<path d="M33.4 15.7 V11.8 Q33.4 10.8 34.4 10.8 H36.2 V7.6 Q36.2 6.8 37.2 6.8 Q38.2 6.8 38.2 7.6 V15.7 Z" stroke="#2f7de6" fill="#0e2c58"/>
<rect x="30.4" y="6.5" width="3.6" height="2" rx="0.9" stroke="#b8b8b8" stroke-width="0.9"/>
</g>
<g id="cap">
<path d="M1434.6 9.8 L1441.4 6.4 L1448.2 9.8 L1441.4 13.2 Z" fill="#0d2f63" stroke="#1f78ee" stroke-width="1.1" stroke-linejoin="round"/>
<path d="M1437.6 12 V14.6 Q1441.4 17 1445.2 14.6 V12" fill="none" stroke="#1f78ee" stroke-width="1.2"/>
<path d="M1435.6 10.4 V15" stroke="#1f78ee" stroke-width="1"/>
<circle cx="1435.8" cy="16" r="1.3" fill="#1f78ee"/>
</g>
<text x="1379.4" y="685.7" textLength="51.3" lengthAdjust="spacingAndGlyphs" style="font-size:19px;font-weight:bold;fill:#ffff00">00:31</text>
<rect x="22" y="21" width="198" height="116.4" fill="#000" stroke="#ffdc00" stroke-width="2"/>
<rect x="30" y="38" width="82" height="36.4" fill="#008000"/>
<path d="M30.5 74V38.5H111.5" fill="none" stroke="#1a9a1a" stroke-width="1"/>
<rect x="120.6" y="38" width="82" height="36.4" fill="#ff0000"/>
<text x="57.9" y="60.7" textLength="24.5" lengthAdjust="spacingAndGlyphs" style="font-size:12.8px;fill:#f4f4f4">BUY</text>
<text x="147.2" y="60.7" textLength="28.5" lengthAdjust="spacingAndGlyphs" style="font-size:12.8px;fill:#f4f4f4">SELL</text>
<text x="30.2" y="104.4" textLength="81.3" lengthAdjust="spacingAndGlyphs" style="font-size:13px;fill:#ffd700">MAX RISK: $12</text>
<rect x="0" y="725" width="1500" height="99" fill="#2c2c2c"/>
<rect x="0" y="725.3" width="1500" height="21.5" fill="#2f2f2f"/>
<rect x="0" y="724.8" width="1500" height="1" fill="#b4b4b4"/>
<rect x="85" y="724.5" width="75.4" height="2" fill="#2f2f2f"/>
<path d="M85 725 V741.9 H160.3 V725" fill="none" stroke="#c4c4c4" stroke-width="1.5"/>
<rect x="0" y="727" width="1" height="17" fill="#444"/>
<text class="ui tab" x="12.8" y="738.7" textLength="61.2" lengthAdjust="spacingAndGlyphs" style="fill:#e8e8e8">NQ100_,M15</text>
<text class="ui tab" x="94.7" y="738" textLength="55" lengthAdjust="spacingAndGlyphs" style="fill:#a9a9a9">NQ100_,M1</text>
<text class="ui tab" x="170.9" y="738.7" textLength="60.8" lengthAdjust="spacingAndGlyphs" style="fill:#e8e8e8">NQ100_,M15</text>
<path d="M1473.2 731.4 V737.4 L1469.8 734.4 Z" fill="#6e6e6e"/>
<path d="M1488.8 731.4 V737.4 L1492.2 734.4 Z" fill="#6e6e6e"/>
<rect x="0" y="746.4" width="1500" height="1" fill="#242424"/>
<rect x="0" y="747.3" width="1500" height="1.6" fill="#969696"/>
<rect x="0" y="748.9" width="1500" height="1" fill="#1c1c1c"/>
<rect x="95.5" y="749.9" width="1" height="20" fill="#454545"/>
<rect x="95.5" y="789" width="1" height="17" fill="#424242"/>
<rect x="223.5" y="749.9" width="1" height="20" fill="#454545"/>
<rect x="223.5" y="789" width="1" height="17" fill="#424242"/>
<rect x="370.5" y="749.9" width="1" height="20" fill="#454545"/>
<rect x="370.5" y="789" width="1" height="17" fill="#424242"/>
<rect x="516.5" y="749.9" width="1" height="20" fill="#454545"/>
<rect x="516.5" y="789" width="1" height="17" fill="#424242"/>
<rect x="662.0" y="749.9" width="1" height="20" fill="#454545"/>
<rect x="662.0" y="789" width="1" height="17" fill="#424242"/>
<rect x="808.5" y="749.9" width="1" height="20" fill="#454545"/>
<rect x="808.5" y="789" width="1" height="17" fill="#424242"/>
<rect x="955.0" y="749.9" width="1" height="20" fill="#454545"/>
<rect x="955.0" y="789" width="1" height="17" fill="#424242"/>
<rect x="1101.5" y="749.9" width="1" height="20" fill="#454545"/>
<rect x="1101.5" y="789" width="1" height="17" fill="#424242"/>
<rect x="1247.0" y="749.9" width="1" height="20" fill="#454545"/>
<rect x="1247.0" y="789" width="1" height="17" fill="#424242"/>
<text class="ui" x="162.9" y="763.2" textLength="56.0" lengthAdjust="spacingAndGlyphs">Fecha/Hora</text>
<text class="ui" x="344.5" y="763.2" textLength="20.5" lengthAdjust="spacingAndGlyphs">Tipo</text>
<text class="ui" x="466.3" y="763.2" textLength="42.5" lengthAdjust="spacingAndGlyphs">Volumen</text>
<text class="ui" x="627.5" y="763.2" textLength="30.0" lengthAdjust="spacingAndGlyphs">Precio</text>
<text class="ui" x="783" y="763.2" textLength="20.8" lengthAdjust="spacingAndGlyphs">S / L</text>
<text class="ui" x="928" y="763.2" textLength="22.0" lengthAdjust="spacingAndGlyphs">T / P</text>
<text class="ui" x="1067" y="763.2" textLength="29.3" lengthAdjust="spacingAndGlyphs">Precio</text>
<text class="ui" x="1217.5" y="763.2" textLength="25.0" lengthAdjust="spacingAndGlyphs">Swap</text>
<text class="ui" x="1454" y="763.2" textLength="44.0" lengthAdjust="spacingAndGlyphs">Beneficio</text>
<rect x="0" y="770.4" width="1500" height="18.4" fill="#444444"/>
<text class="ui" x="-4.6" y="782.9" textLength="22.3" lengthAdjust="spacingAndGlyphs" style="font-weight:bold;fill:#dcdcdc">0.84</text>
<text class="ui" x="24" y="782.9" textLength="112.8" lengthAdjust="spacingAndGlyphs" style="font-weight:bold;fill:#dcdcdc">Margen libre: 9 970.84</text>
<text class="ui" x="1462" y="782.9" textLength="21.2" lengthAdjust="spacingAndGlyphs" style="font-weight:bold;fill:#dcdcdc">0.00</text>
<text class="ui" x="-4.4" y="801.1" textLength="16.5" lengthAdjust="spacingAndGlyphs">755</text>
<text class="ui" x="130.9" y="801.1" textLength="89.9" lengthAdjust="spacingAndGlyphs">2026.01.23 23:24:25</text>
<text class="ui" x="325" y="801.1" textLength="42.0" lengthAdjust="spacingAndGlyphs">buy stop</text>
<text class="ui" x="484.3" y="801.1" textLength="29.0" lengthAdjust="spacingAndGlyphs">0.3 / 0</text>
<text class="ui" x="618.8" y="801.1" textLength="40.7" lengthAdjust="spacingAndGlyphs">25560.25</text>
<text class="ui" x="749.5" y="801.1" textLength="40.0" lengthAdjust="spacingAndGlyphs">25530.25</text>
<text class="ui" x="895" y="801.1" textLength="40.8" lengthAdjust="spacingAndGlyphs">25620.25</text>
<text class="ui" x="1057.5" y="801.1" textLength="40.8" lengthAdjust="spacingAndGlyphs">25545.85</text>
<text class="ui" x="1452.5" y="801.1" textLength="30.7" lengthAdjust="spacingAndGlyphs">placed</text>
<path d="M798.1 794.8000000000001L803.6999999999999 800.4M803.6999999999999 794.8000000000001L798.1 800.4" stroke="#e0e0e0" stroke-width="1.5" fill="none"/>
<path d="M944.4000000000001 794.8000000000001L950.0 800.4M950.0 794.8000000000001L944.4000000000001 800.4" stroke="#e0e0e0" stroke-width="1.5" fill="none"/>
<path d="M1492.2 794.8000000000001L1497.8 800.4M1497.8 794.8000000000001L1492.2 800.4" stroke="#e0e0e0" stroke-width="1.5" fill="none"/>
<rect x="0" y="806" width="1500" height="1" fill="#414141"/>
</svg>
</body></html>
